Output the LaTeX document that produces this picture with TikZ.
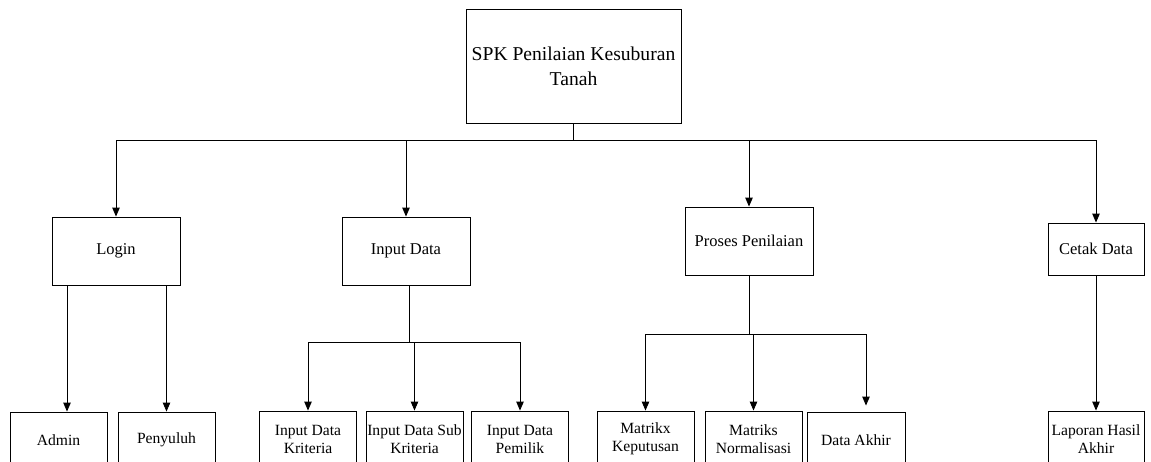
\documentclass[tikz,border=0pt]{standalone}
\usepackage{fontspec}
\setmainfont{Liberation Serif}
\usetikzlibrary{arrows.meta}

\begin{document}
\begin{tikzpicture}[x=1pt,y=-1pt,->,>={Triangle[width=7.5pt,length=9pt]},line width=0.9pt]
  \tikzstyle{box}=[draw,rectangle,align=center,inner sep=1pt,font=\fontsize{16.5}{19}\selectfont]
  \tikzstyle{leaf}=[box,minimum width=97pt,minimum height=56pt,font=\fontsize{15.6}{18}\selectfont]
  \useasboundingbox (0,0) rectangle (1151,461);

  \node[box,minimum width=215pt,minimum height=114pt,font=\fontsize{19.6}{25}\selectfont] (T) at (573.5,66) {SPK Penilaian Kesuburan\\Tanah};

  \node[box,minimum width=128pt,minimum height=68pt] (L) at (116,251) {Login};
  \node[box,minimum width=128pt,minimum height=68pt] (I) at (406,251) {Input Data};
  \node[box,minimum width=128pt,minimum height=68pt] (P) at (749,241) {Proses Penilaian};
  \node[box,minimum width=96pt,minimum height=52pt] (C) at (1096,249) {Cetak Data};

  \node[leaf] (L1) at (58.5,440) {Admin};
  \node[leaf] (L2) at (166.5,440) {Penyuluh};
  \node[leaf] (I1) at (308,439) {Input Data\\Kriteria};
  \node[leaf] (I2) at (414.5,439) {Input Data Sub\\Kriteria};
  \node[leaf] (I3) at (520,439) {Input Data\\Pemilik};
  \node[leaf] (P1) at (645.5,439) {Matrikx\\Keputusan};
  \node[leaf] (P2) at (753.5,439) {Matriks\\Normalisasi};
  \node[leaf,minimum width=98pt] (P3) at (856,440) {Data Akhir};
  \node[leaf,minimum width=96pt] (C1) at (1096,439) {Laporan Hasil\\Akhir};

  \coordinate (bus) at (573.5,140);
  \draw[-] (T.south) -- (bus);
  \draw (bus) -| (L);
  \draw (bus) -| (I);
  \draw (bus) -| (P);
  \draw (bus) -| (C);

  \coordinate (a1) at ([xshift=8.5pt]L1.north);
  \draw (a1 |- L.south) -- (a1);
  \draw (L2.north |- L.south) -- (L2.north);

  \coordinate (ib) at (409,342);
  \draw[-] (I.south -| ib) -- (ib);
  \draw (ib) -| (I1);
  \draw (ib) -| (I2);
  \draw (ib) -| (I3);

  \coordinate (pb) at (749,334);
  \draw[-] (P.south) -- (pb);
  \draw (pb) -| (P1);
  \draw (pb) -| (P2);
  \draw[shorten >=6pt] (pb) -| (P3.north -| 866,0);

  \draw (C) -- (C1);
\end{tikzpicture}
\end{document}
